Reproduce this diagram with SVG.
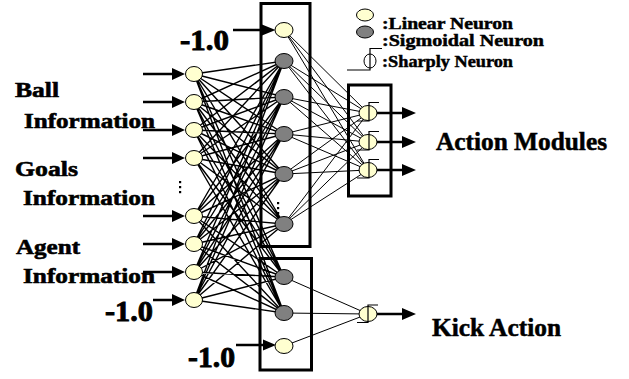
<svg xmlns="http://www.w3.org/2000/svg" width="629" height="379" viewBox="0 0 629 379">
<style>
.lin{fill:#FFFFD0;stroke:#000;stroke-width:1}
.sig{fill:#808080;stroke:#000;stroke-width:1}
.out{fill:#FFFFD0;stroke:#000;stroke-width:1}
.step{fill:none;stroke:#000;stroke-width:1.2}
.box{fill:none;stroke:#000;stroke-width:3}
.w1{stroke:#000;stroke-width:1.4;fill:none}
.w2{stroke:#000;stroke-width:1;fill:none}
.arr{stroke:#000;stroke-width:2.6;fill:none}
.ah{fill:#000}
text{font-family:"Liberation Serif","Times New Roman",serif;font-weight:bold;fill:#000;stroke:#000}
.lbl{font-size:22px;stroke-width:0.6}
.num{font-size:30px;stroke-width:0.9}
.leg{font-size:16px;stroke-width:0.45}
.big{font-size:25px;stroke-width:0.5}
</style>
<rect width="629" height="379" fill="#fff"/>
<g id="connectors">
<g id="in-hidden" class="w1">
<path d="M194 74L284 61M194 74L284 97M194 74L284 134M194 74L284 174M194 74L284 224M194 74L284 277M194 74L284 313
M194 102L284 61M194 102L284 97M194 102L284 134M194 102L284 174M194 102L284 224M194 102L284 277M194 102L284 313
M194 130L284 61M194 130L284 97M194 130L284 134M194 130L284 174M194 130L284 224M194 130L284 277M194 130L284 313
M194 158L284 61M194 158L284 97M194 158L284 134M194 158L284 174M194 158L284 224M194 158L284 277M194 158L284 313
M194 216L284 61M194 216L284 97M194 216L284 134M194 216L284 174M194 216L284 224M194 216L284 277M194 216L284 313
M194 244L284 61M194 244L284 97M194 244L284 134M194 244L284 174M194 244L284 224M194 244L284 277M194 244L284 313
M194 272L284 61M194 272L284 97M194 272L284 134M194 272L284 174M194 272L284 224M194 272L284 277M194 272L284 313
M194 300L284 61M194 300L284 97M194 300L284 134M194 300L284 174M194 300L284 224M194 300L284 277M194 300L284 313"/>
</g>
<g id="hidden-out" class="w2">
<path d="M284 30L368 113M284 30L368 142M284 30L368 170
M284 61L368 113M284 61L368 142M284 61L368 170
M284 97L368 113M284 97L368 142M284 97L368 170
M284 134L368 113M284 134L368 142M284 134L368 170
M284 174L368 113M284 174L368 142M284 174L368 170
M284 224L368 113M284 224L368 142M284 224L368 170
M284 277L368 314M284 313L368 314M284 346L368 314"/>
</g>
<g id="arrows">
<path class="arr" d="M143 74H174M143 102H174M143 130H174M143 158H174M143 216H174M143 244H174M143 272H174M153 300H174M233 30H264M236 345H265M377 113H404M377 142H404M377 170H404M377 314H404"/>
<path class="ah" d="M172 68L185 74L172 80ZM172 96L185 102L172 108ZM172 124L185 130L172 136ZM172 152L185 158L172 164ZM172 210L185 216L172 222ZM172 238L185 244L172 250ZM172 266L185 272L172 278ZM172 294L185 300L172 306ZM262 24.5L275.5 30L262 35.5ZM263 339.5L276 345L263 350.5ZM402 107L416 113L402 119ZM402 136L416 142L402 148ZM402 164L416 170L402 176ZM402 308L416 314L402 320Z"/>
</g>
</g>
<g id="box-hidden1"><rect class="box" x="261" y="3.5" width="49" height="243"/></g>
<g id="box-hidden2"><rect class="box" x="260" y="258.5" width="51.5" height="111.5"/></g>
<g id="box-action"><rect class="box" x="348.5" y="85" width="42.5" height="111"/></g>
<g id="input-nodes">
<ellipse class="lin" cx="194" cy="74" rx="8.5" ry="7.5"/>
<ellipse class="lin" cx="194" cy="102" rx="8.5" ry="7.5"/>
<ellipse class="lin" cx="194" cy="130" rx="8.5" ry="7.5"/>
<ellipse class="lin" cx="194" cy="158" rx="8.5" ry="7.5"/>
<ellipse class="lin" cx="194" cy="216" rx="8.5" ry="7.5"/>
<ellipse class="lin" cx="194" cy="244" rx="8.5" ry="7.5"/>
<ellipse class="lin" cx="194" cy="272" rx="8.5" ry="7.5"/>
<ellipse class="lin" cx="194" cy="300" rx="8.5" ry="7.5"/>
<g fill="#000"><rect x="179" y="181" width="2.2" height="2.2"/><rect x="179" y="186" width="2.2" height="2.2"/><rect x="179" y="191" width="2.2" height="2.2"/></g>
</g>
<g id="hidden-nodes">
<ellipse class="lin" cx="284" cy="30" rx="9" ry="7.5"/>
<ellipse class="sig" cx="284" cy="61" rx="9" ry="7.5"/>
<ellipse class="sig" cx="284" cy="97" rx="9" ry="7.5"/>
<ellipse class="sig" cx="284" cy="134" rx="9" ry="7.5"/>
<ellipse class="sig" cx="284" cy="174" rx="9" ry="7.5"/>
<ellipse class="sig" cx="284" cy="224" rx="9" ry="7.5"/>
<g fill="#000"><rect x="277" y="202" width="2.2" height="2.2"/><rect x="277" y="207" width="2.2" height="2.2"/><rect x="277" y="212" width="2.2" height="2.2"/></g>
<ellipse class="sig" cx="284" cy="277" rx="9" ry="7.5"/>
<ellipse class="sig" cx="284" cy="313" rx="9" ry="7.5"/>
<ellipse class="lin" cx="284" cy="346" rx="9" ry="7.5"/>
</g>
<g id="output-nodes">
<ellipse class="out" cx="368" cy="113" rx="9" ry="7.5"/>
<path class="step" d="M357 121H369V102.5H379"/>
<ellipse class="out" cx="368" cy="142" rx="9" ry="7.5"/>
<path class="step" d="M357 150H369V131.5H379"/>
<ellipse class="out" cx="368" cy="170" rx="9" ry="7.5"/>
<path class="step" d="M357 178H369V159.5H379"/>
</g>
<g id="kick-node">
<ellipse class="out" cx="368" cy="314" rx="9" ry="7.5"/>
<path class="step" d="M357 322.5H368V305H378"/>
</g>
<g id="legend">
<ellipse class="lin" cx="365" cy="15" rx="8.5" ry="6" stroke-width="1.5"/>
<ellipse class="sig" cx="365" cy="32" rx="8.5" ry="6" stroke-width="1.5"/>
<ellipse cx="370" cy="61" rx="6" ry="7" fill="none" stroke="#000" stroke-width="1"/>
<path class="step" d="M347 70H370V48.5H382"/>
<text class="leg" x="382" y="28.5" textLength="131" lengthAdjust="spacingAndGlyphs">:Linear Neuron</text>
<text class="leg" x="382" y="46" textLength="162" lengthAdjust="spacingAndGlyphs">:Sigmoidal Neuron</text>
<text class="leg" x="382" y="67" textLength="131" lengthAdjust="spacingAndGlyphs">:Sharply Neuron</text>
</g>
<g id="labels">
<text class="lbl" x="15" y="97" textLength="44" lengthAdjust="spacingAndGlyphs">Ball</text>
<text class="lbl" x="24" y="127.5" textLength="131" lengthAdjust="spacingAndGlyphs">Information</text>
<text class="lbl" x="15" y="175.5" textLength="63" lengthAdjust="spacingAndGlyphs">Goals</text>
<text class="lbl" x="23" y="205" textLength="132" lengthAdjust="spacingAndGlyphs">Information</text>
<text class="lbl" x="16" y="254" textLength="64" lengthAdjust="spacingAndGlyphs">Agent</text>
<text class="lbl" x="23" y="283" textLength="132" lengthAdjust="spacingAndGlyphs">Information</text>
<text class="num" x="180" y="50" textLength="49" lengthAdjust="spacingAndGlyphs">-1.0</text>
<text class="num" x="105" y="321" textLength="48" lengthAdjust="spacingAndGlyphs">-1.0</text>
<text class="num" x="188" y="367" textLength="47" lengthAdjust="spacingAndGlyphs">-1.0</text>
<text class="big" x="436" y="150" textLength="171" lengthAdjust="spacingAndGlyphs">Action Modules</text>
<text class="big" x="432" y="336" textLength="129" lengthAdjust="spacingAndGlyphs">Kick Action</text>
</g>
</svg>
